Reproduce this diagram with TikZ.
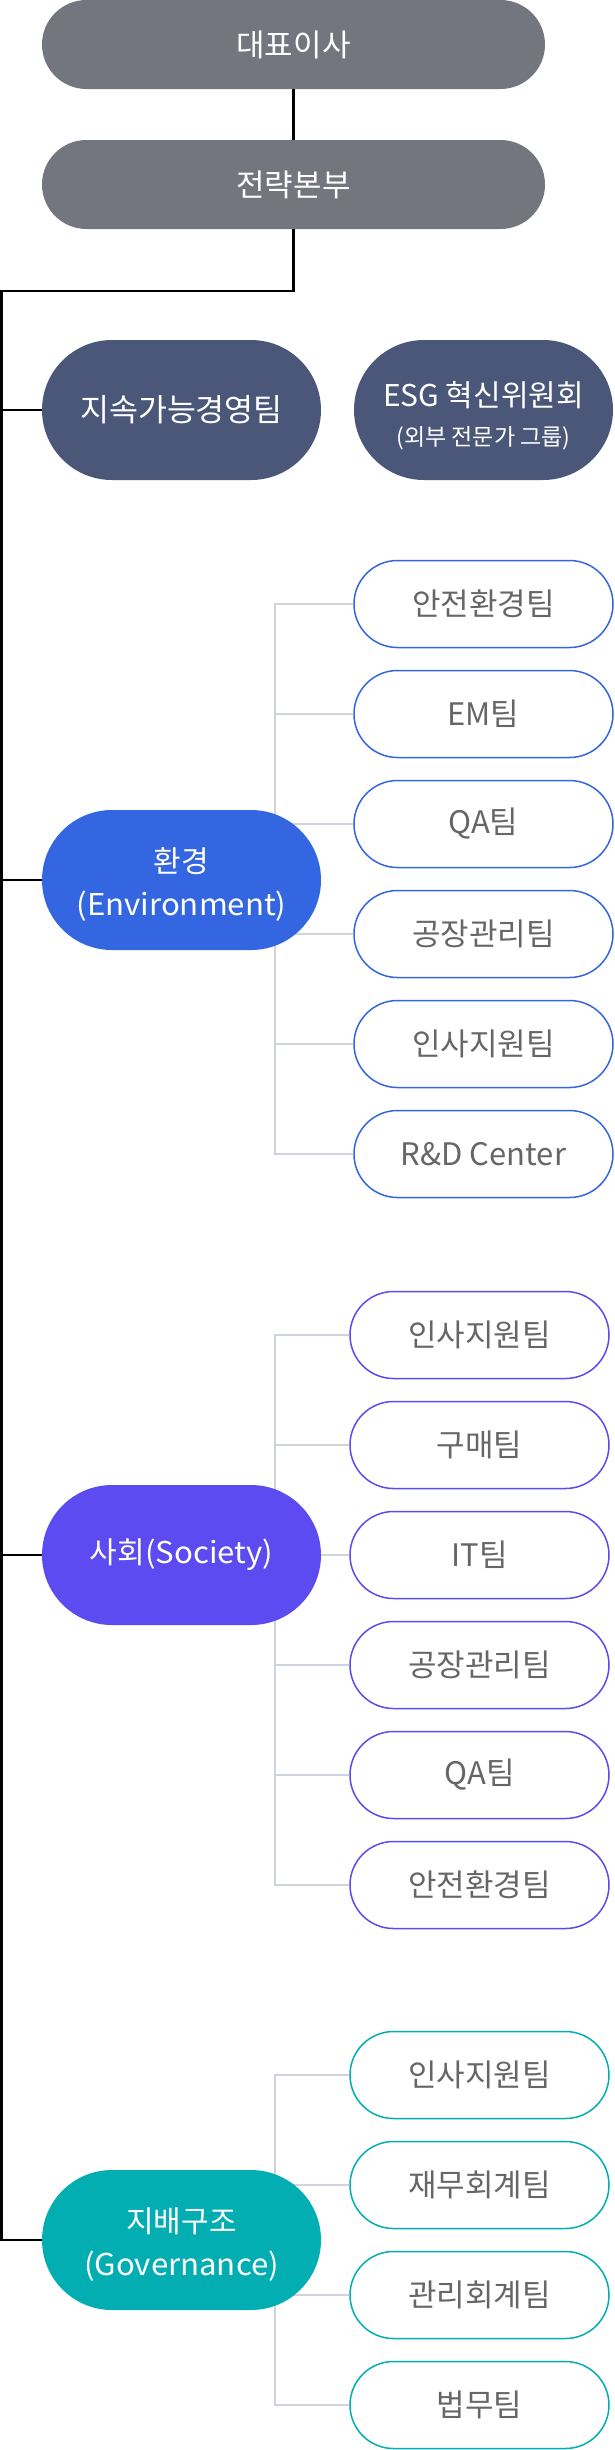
\documentclass[tikz,border=0pt]{standalone}
\usepackage{fontspec}
\setmainfont{Noto Sans CJK KR}
\newfontfamily\latw[FakeStretch=1.04]{Noto Sans CJK KR}
\usetikzlibrary{backgrounds}
\definecolor{cgray}{HTML}{73767E}
\definecolor{cnavy}{HTML}{4A5779}
\definecolor{cblue}{HTML}{3366E0}
\definecolor{cpurple}{HTML}{5B4BF0}
\definecolor{cteal}{HTML}{03AEB3}
\definecolor{ctext}{HTML}{666666}
\definecolor{cbrack}{HTML}{CED3DC}
\newcommand{\topstrut}[1]{\rule{0pt}{#1}}
\begin{document}
\begin{tikzpicture}[x=1pt,y=-1pt,
  topbox/.style={rounded corners=44.5pt, fill=cgray, minimum width=503pt, minimum height=89pt, text=white, inner sep=0pt, font=\fontsize{31}{36}\selectfont},
  mainbox/.style={rounded corners=70pt, minimum width=279pt, minimum height=140pt, text=white, inner sep=0pt, align=center, font=\fontsize{30}{43}\selectfont},
  esgbox/.style={rounded corners=70pt, minimum width=259pt, minimum height=140pt, text=white, inner sep=0pt, align=center, fill=cnavy},
  childbox/.style={rounded corners=43.5pt, minimum width=259pt, minimum height=87pt, text=ctext, inner sep=0pt, fill=white, line width=1.5pt, font=\fontsize{31}{36}\selectfont},
  trunk/.style={line width=2.5pt, black},
  brack/.style={line width=1.8pt, cbrack}
]
\useasboundingbox (0,0) rectangle (614,2450);

% top
\node[topbox] (ceo) at (293.5,44.5) {대표이사};
\node[topbox] (strat) at (293.5,184.5) {전략본부};
\node[mainbox, fill=cnavy, font=\fontsize{31.5}{36}\selectfont] (sust) at (181.5,410) {지속가능경영팀};
\node[esgbox] (esg) at (483.5,410) {{\fontsize{30}{34}\selectfont\topstrut{36pt}ESG 혁신위원회}\\[17pt]{\fontsize{23}{26}\selectfont (외부 전문가 그룹)}};

% environment
\node[mainbox, fill=cblue] (env) at (181.5,880) {\topstrut{34pt}환경\\{\latw (Environment)}};
\foreach \i/\t/\y in {1/안전환경팀/604, 2/EM팀/714, 3/QA팀/824, 4/공장관리팀/934, 5/인사지원팀/1044, 6/R\&D Center/1154}
  \node[childbox, draw=cblue] (e\i) at (483.5,\y) {\t};

% society
\node[mainbox, fill=cpurple] (soc) at (181.5,1555) {사회{\latw (Society)}};
\foreach \i/\t/\y in {1/인사지원팀/1335, 2/구매팀/1445, 3/IT팀/1555, 4/공장관리팀/1665, 5/QA팀/1775, 6/안전환경팀/1885}
  \node[childbox, draw=cpurple] (s\i) at (479.5,\y) {\t};

% governance
\node[mainbox, fill=cteal] (gov) at (181.5,2240) {\topstrut{34pt}지배구조\\{\latw (Governance)}};
\foreach \i/\t/\y in {1/인사지원팀/2075, 2/재무회계팀/2185, 3/관리회계팀/2295, 4/법무팀/2405}
  \node[childbox, draw=cteal] (g\i) at (479.5,\y) {\t};

% trunk
\coordinate (bend) at (293.5,291);
\coordinate (corner) at (1.5,291);
\draw[trunk] (ceo.south) -- (strat.north);
\draw[trunk] (strat.south) -- (bend) -- (corner) |- (gov.west);
\draw[trunk] (corner |- sust.west) -- (sust.west);
\draw[trunk] (corner |- env.west) -- (env.west);
\draw[trunk] (corner |- soc.west) -- (soc.west);

% brackets
\begin{pgfonlayer}{background}
\coordinate (ex) at (275,0);
\draw[brack] (e1.west) -- (ex |- e1.west) -- (ex |- e6.west) -- (e6.west);
\foreach \i in {2,...,5} \draw[brack] (ex |- e\i.west) -- (e\i.west);
\draw[brack] (s1.west) -- (ex |- s1.west) -- (ex |- s6.west) -- (s6.west);
\foreach \i in {2,...,5} \draw[brack] (ex |- s\i.west) -- (s\i.west);
\draw[brack] (g1.west) -- (ex |- g1.west) -- (ex |- g4.west) -- (g4.west);
\foreach \i in {2,3} \draw[brack] (ex |- g\i.west) -- (g\i.west);
\end{pgfonlayer}
\end{tikzpicture}
\end{document}
